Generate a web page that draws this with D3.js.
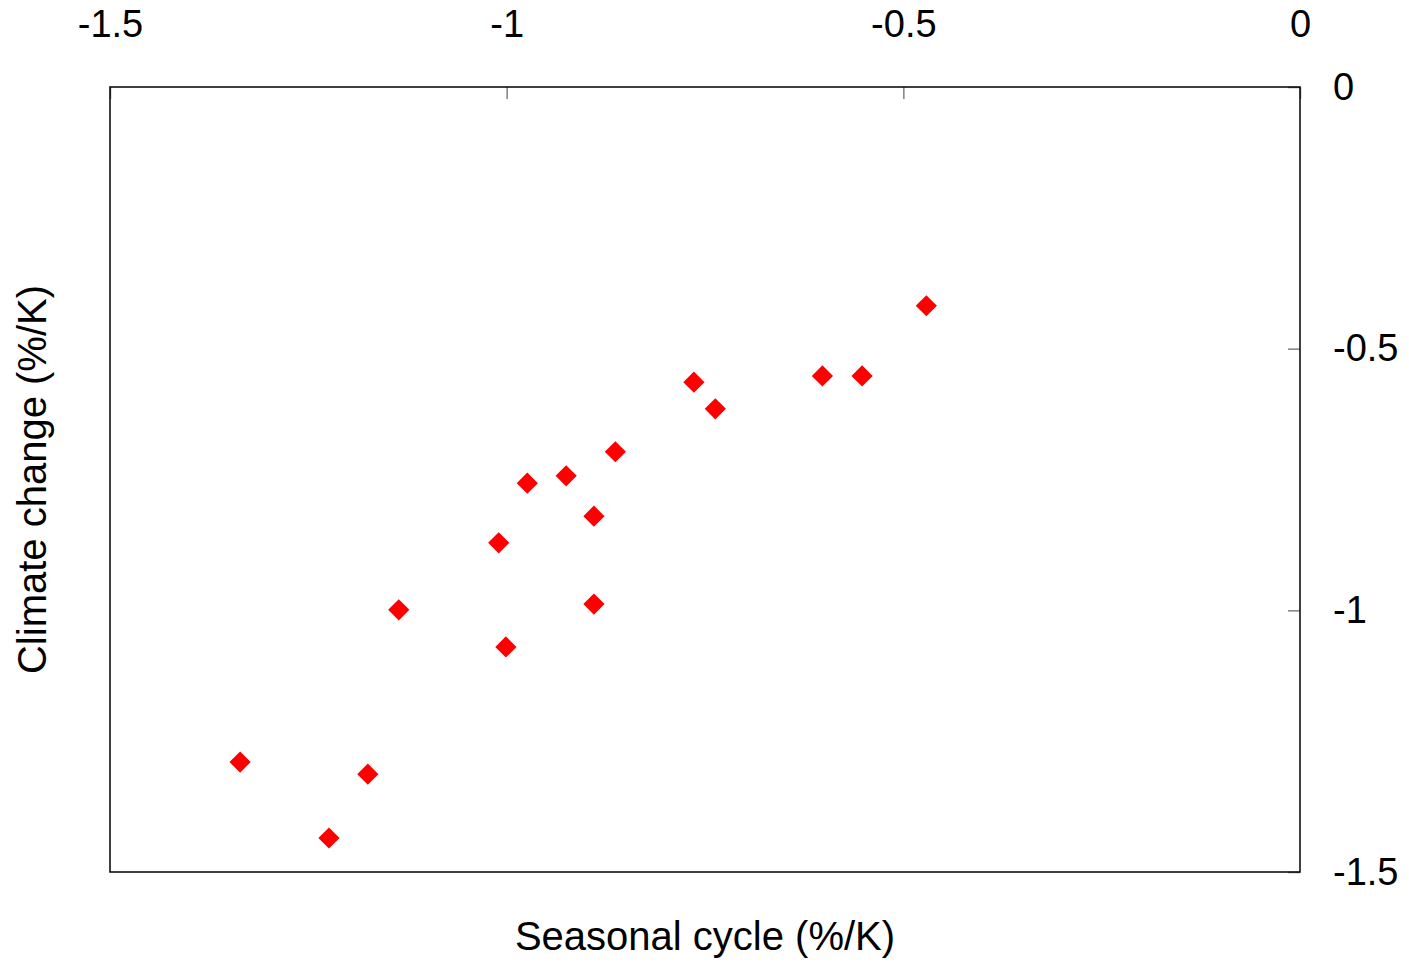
<!DOCTYPE html>
<meta charset="utf-8">
<style>
  body {
    margin: 0;
    background: #fff;
  }

  text {
    font-family: "Liberation Sans", Arial, sans-serif;
    fill: #000;
  }

  .axis text {
    font-size: 38px;
  }

  .axis .tick line {
    stroke: #808080;
    stroke-width: 1.5px;
  }

  .title {
    font-size: 40px;
  }
</style>
<svg width="1409" height="963"></svg>
<script src="https://d3js.org/d3.v7.min.js"></script>
<script>
  // seasonal cycle (%/K) vs climate change (%/K)
  var seasonal = [-0.471, -0.552, -0.602, -0.764, -0.737, -0.863, -0.925, -0.974,
    -0.890, -1.010, -1.136, -0.890, -1.001, -1.336, -1.175, -1.224];
  var climate = [-0.418, -0.552, -0.552, -0.564, -0.615, -0.697, -0.743, -0.757,
    -0.820, -0.871, -0.999, -0.988, -1.070, -1.290, -1.313, -1.435];

  var xTicks = [-1.5, -1, -0.5, 0];
  var yTicks = [0, -0.5, -1, -1.5];

  var svg = d3.select("svg"),
    plotLeft = 110,
    plotRight = 1300,
    plotTop = 87,
    plotBottom = 872;

  var x = d3.scaleLinear().domain([-1.5, 0]).range([plotLeft, plotRight]);
  var y = d3.scaleLinear().domain([0, -1.5]).range([plotTop, plotBottom]);

  // plain hyphen for the minus sign, like the original
  var fmt = function(d) { return String(d); };

  //top axis, ticks pointing in
  var xAxis = svg.append("g")
    .attr("class", "axis")
    .attr("transform", "translate(0," + plotTop + ")")
    .call(d3.axisTop(x)
      .tickValues(xTicks)
      .tickFormat(fmt)
      .tickSize(-12)
      .tickPadding(50));
  xAxis.select(".domain").remove();
  xAxis.selectAll("text").attr("dy", "0");

  //right axis, ticks pointing in
  var yAxis = svg.append("g")
    .attr("class", "axis")
    .attr("transform", "translate(" + plotRight + ",0)")
    .call(d3.axisRight(y)
      .tickValues(yTicks)
      .tickFormat(fmt)
      .tickSize(-12)
      .tickPadding(33));
  yAxis.select(".domain").remove();

  //frame
  svg.append("rect")
    .attr("x", plotLeft)
    .attr("y", plotTop)
    .attr("width", plotRight - plotLeft)
    .attr("height", plotBottom - plotTop)
    .attr("fill", "none")
    .attr("stroke", "#000")
    .attr("stroke-width", 1.5);

  //points
  var diamond = d3.symbol().type(d3.symbolSquare).size(225);
  svg.append("g")
    .selectAll("path")
    .data(d3.range(seasonal.length))
    .enter().append("path")
    .attr("d", diamond)
    .attr("fill", "#ff0000")
    .attr("transform", function(i) {
      return "translate(" + x(seasonal[i]) + "," + y(climate[i]) + ") rotate(45)";
    });

  //axis titles
  svg.append("text")
    .attr("class", "title")
    .attr("x", (plotLeft + plotRight) / 2)
    .attr("y", 950)
    .attr("text-anchor", "middle")
    .text("Seasonal cycle (%/K)");

  svg.append("text")
    .attr("class", "title")
    .attr("transform", "translate(46," + (plotTop + plotBottom) / 2 + ") rotate(-90)")
    .attr("text-anchor", "middle")
    .text("Climate change (%/K)");
</script>
